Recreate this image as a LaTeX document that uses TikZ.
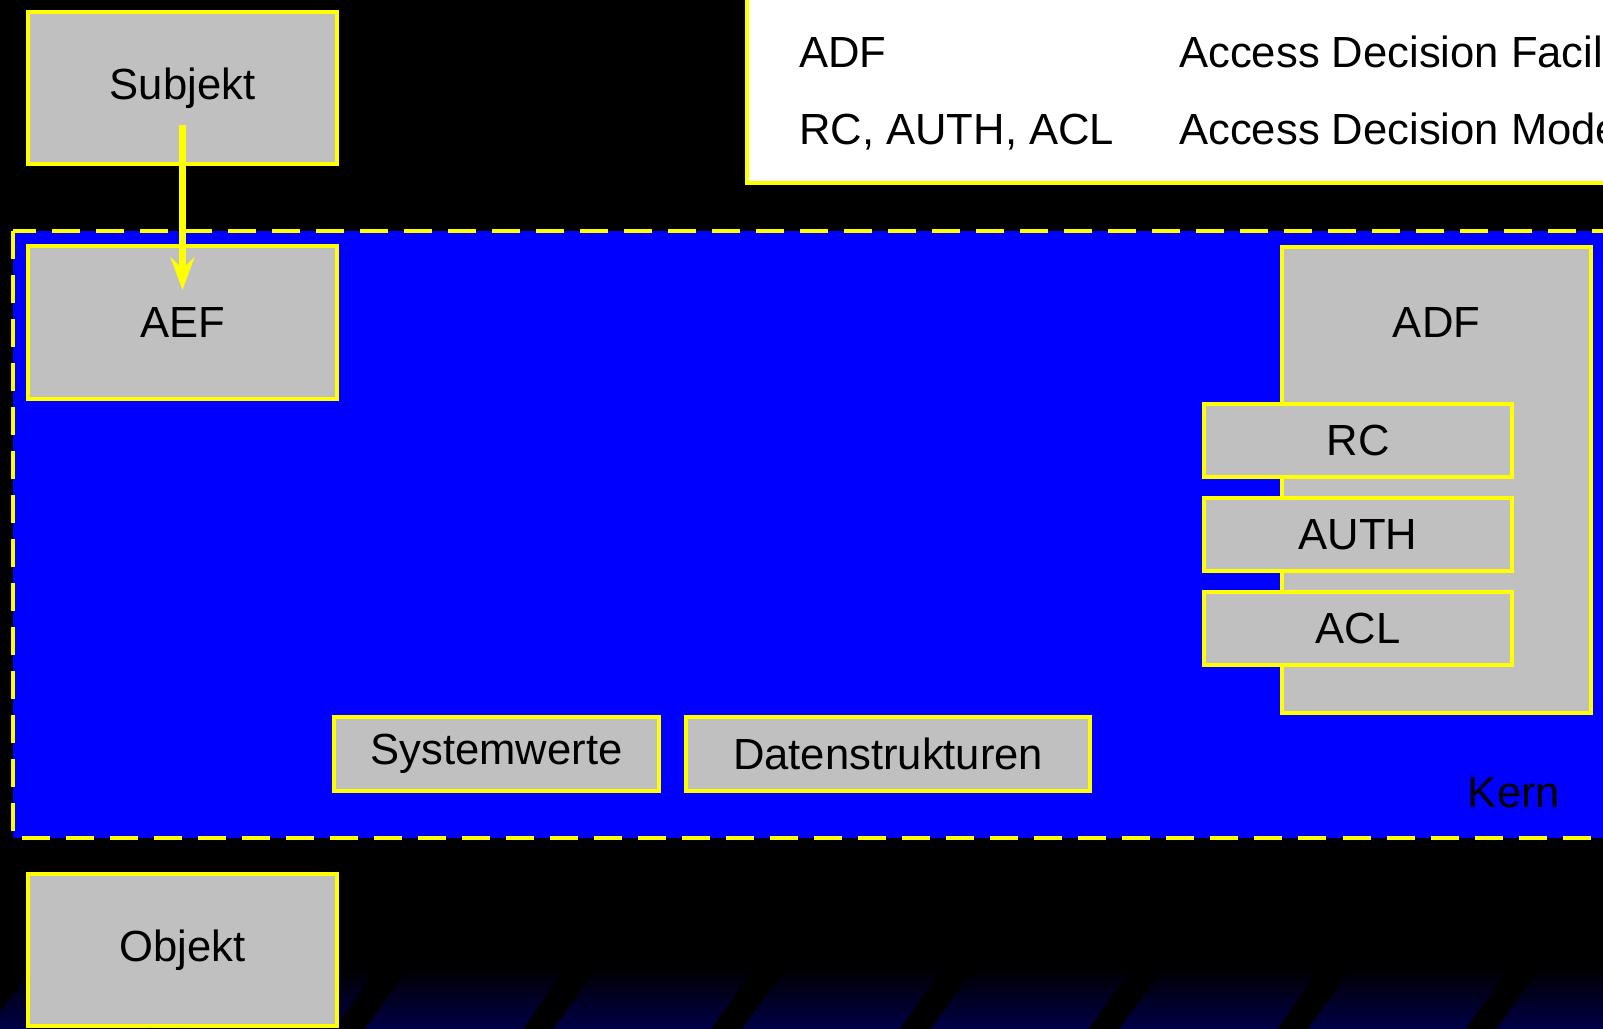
\documentclass[tikz,border=0pt]{standalone}
\usepackage{fontspec}
\setmainfont{Liberation Sans}
\usepackage{tikz}
\usetikzlibrary{arrows.meta, positioning}
\definecolor{boxgray}{RGB}{192,192,192}
\definecolor{kernblue}{RGB}{0,0,255}
\definecolor{slideyellow}{RGB}{255,255,0}
\definecolor{stripenavy}{RGB}{0,0,70}

\begin{document}
\begin{tikzpicture}[x=0.025cm, y=-0.025cm,
  font=\fontsize{31}{37}\selectfont,
  slidebox/.style={draw=slideyellow, fill=boxgray, line width=0.1cm, inner sep=0pt,
    minimum width=7.725cm, minimum height=3.8cm},
  modbox/.style={slidebox, minimum width=7.7cm, minimum height=1.825cm},
  kernbox/.style={draw=slideyellow, fill=kernblue, line width=0.115cm,
    dash pattern=on 0.7cm off 0.4cm},
  legtext/.style={anchor=base west, inner sep=0pt}]

  % Background with stripes at the bottom
  \fill[black] (0,0) rectangle (1603,1029);
  \useasboundingbox (0,0) rectangle (1603,1029);
  \foreach \k in {-1,...,8}{
    \shade[top color=black, bottom color=stripenavy]
      ({31.8+188.6*\k},967) -- ({189.4+188.6*\k},967) --
      ({145.4+188.6*\k},1029) -- ({-12.2+188.6*\k},1029) -- cycle;
  }

  % Legend (top right)
  \draw[draw=slideyellow, fill=white, line width=0.1cm] (747,-20) rectangle (1640,183);
  \node[legtext] (legadf) at (799,68) {ADF};
  \node[legtext] (legmods) at (799,145) {RC, AUTH, ACL};
  \node[legtext] (legadftxt) at (1179,68) {Access Decision Facility};
  \node[legtext] (legmodstxt) at (1179,145) {Access Decision Model};

  % Kern area
  \draw[kernbox] (13,231) rectangle (1640,838);
  \node[inner sep=0pt] (kern) at (1514,793) {Kern};

  % Subject, enforcement, object
  \node[slidebox] (subjekt) at (182.5,88) {Subjekt};
  \node[slidebox] (aef) at (182.5,322.5) {AEF};
  \node[slidebox] (objekt) at (182.5,950) {Objekt};

  % ADF with its modules
  \node[slidebox, minimum height=11.65cm, label={[yshift=3.925cm]center:ADF}] (adf) at (1436.5,480) {};
  \node[modbox] (rc) at (1358,440.5) {RC};
  \node[modbox, below=0.425cm of rc] (auth) {AUTH};
  \node[modbox, below=0.425cm of auth] (acl) {ACL};

  % Data inside the kernel
  \node[slidebox, minimum width=8.125cm, minimum height=1.85cm] (sysw) at (496.5,754) {Systemwerte};
  \node[slidebox, minimum width=10.1cm, minimum height=1.85cm, right=0.575cm of sysw] (daten) {Datenstrukturen};

  % Request arrow
  \draw[slideyellow, line width=0.175cm, -{Stealth[length=0.825cm, width=0.6cm, inset=0.3cm]}]
    ([yshift=-0.925cm]subjekt.center) -- ([yshift=0.8125cm]aef.center);

\end{tikzpicture}
\end{document}
